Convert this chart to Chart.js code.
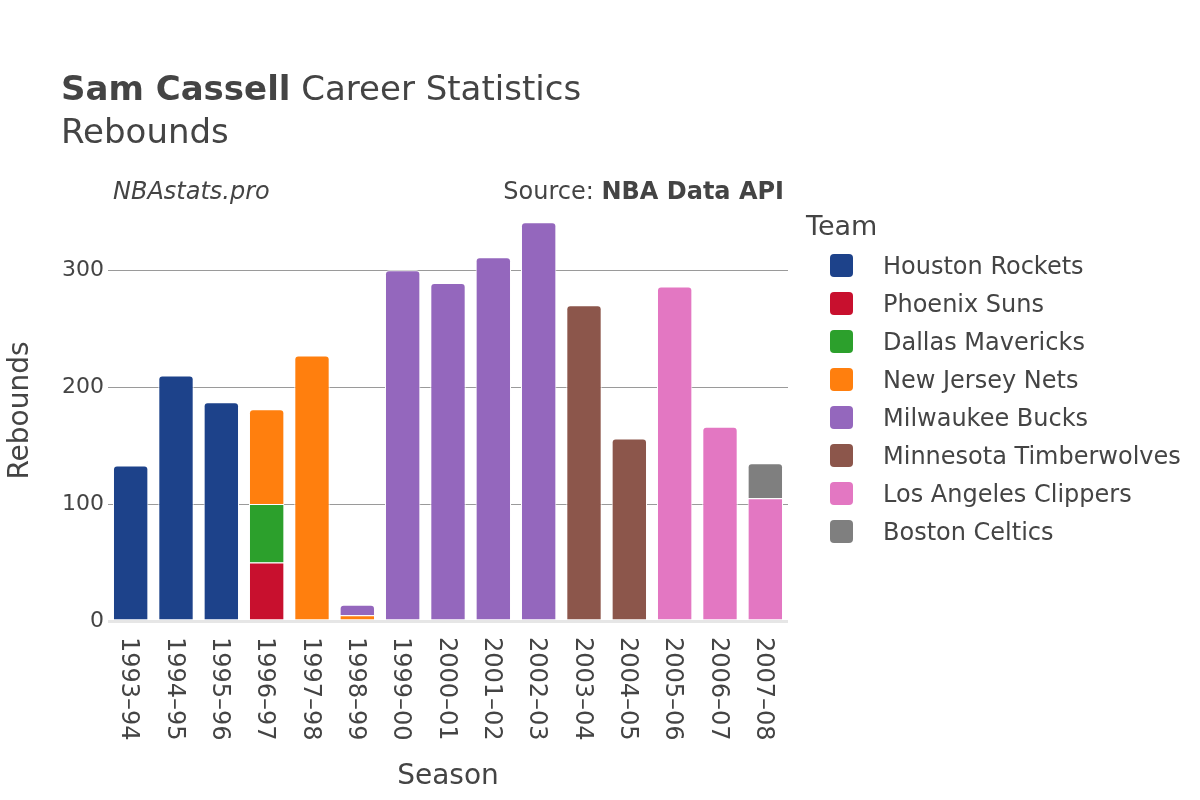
<!DOCTYPE html>
<html>
<head>
<meta charset="utf-8">
<script src="https://cdn.jsdelivr.net/npm/chart.js@4.4.1/dist/chart.umd.min.js"></script>
<style>
  body { margin: 0; background: #fff; font-family: "DejaVu Sans", sans-serif; color: #444; }
  #wrap { position: relative; width: 1200px; height: 800px; overflow: hidden; }
  #chart { position: absolute; left: 0; top: 0; }
  .txt { position: absolute; line-height: 1; white-space: nowrap; }
  .item { position: absolute; left: 830px; height: 23px; }
  .swatch { position: absolute; left: 0; top: 0; width: 23px; height: 23px; border-radius: 4px; }
  .label { position: absolute; left: 53px; top: 0; font-size: 24px; line-height: 1; white-space: nowrap; }
</style>
</head>
<body>
<div id="wrap">
  <canvas id="chart" width="1200" height="800"></canvas>
  <div class="txt" style="left:61px; top:71px; font-size:34px;"><b>Sam Cassell</b> Career Statistics</div>
  <div class="txt" style="left:61px; top:114px; font-size:34px;">Rebounds</div>
  <div class="txt" style="left:113px; top:179px; font-size:24px; font-style:italic;">NBAstats.pro</div>
  <div class="txt" style="right:416px; top:179px; font-size:24px;">Source: <b>NBA Data API</b></div>
  <div class="txt" style="left:806px; top:212px; font-size:27px;">Team</div>
  <div id="legend"></div>
</div>
<script>
const seasons = ["1993–94", "1994–95", "1995–96", "1996–97", "1997–98", "1998–99", "1999–00",
  "2000–01", "2001–02", "2002–03", "2003–04", "2004–05", "2005–06", "2006–07", "2007–08"];

const teams = ["Houston Rockets", "Phoenix Suns", "Dallas Mavericks", "New Jersey Nets",
  "Milwaukee Bucks", "Minnesota Timberwolves", "Los Angeles Clippers", "Boston Celtics"];

const teamColors = ["#1d428a", "#c8102e", "#2ca02c", "#ff7f0e", "#9467bd", "#8c564b", "#e377c2", "#7f7f7f"];

// rebounds per season, null where he did not play for that team
const houston   = [133, 210, 187, null, null, null, null, null, null, null, null, null, null, null, null];
const phoenix   = [null, null, null, 50, null, null, null, null, null, null, null, null, null, null, null];
const dallas    = [null, null, null, 50, null, null, null, null, null, null, null, null, null, null, null];
const newJersey = [null, null, null, 81, 227, 5, null, null, null, null, null, null, null, null, null];
const milwaukee = [null, null, null, null, null, 9, 300, 289, 311, 341, null, null, null, null, null];
const minnesota = [null, null, null, null, null, null, null, null, null, null, 270, 156, null, null, null];
const clippers  = [null, null, null, null, null, null, null, null, null, null, null, null, 286, 166, 105];
const boston    = [null, null, null, null, null, null, null, null, null, null, null, null, null, null, 30];

const yTicks = [0, 100, 200, 300];

const teamData = [houston, phoenix, dallas, newJersey, milwaukee, minnesota, clippers, boston];

// only the topmost segment of each stack gets rounded corners
function isTopSegment(dsIndex, i) {
  for (let k = dsIndex + 1; k < teamData.length; k++) {
    if (teamData[k][i] != null) return false;
  }
  return true;
}

const datasets = teams.map((name, d) => ({
  label: name,
  data: teamData[d],
  backgroundColor: teamColors[d],
  borderColor: "#ffffff",
  borderWidth: 1,
  borderRadius: (ctx) => isTopSegment(ctx.datasetIndex, ctx.dataIndex)
    ? { topLeft: 4, topRight: 4, bottomLeft: 0, bottomRight: 0 } : 0,
  categoryPercentage: 1,
  barPercentage: 0.78,
}));

// html legend
const legendEl = document.getElementById("legend");
teams.forEach((name, d) => {
  const item = document.createElement("div");
  item.className = "item";
  item.style.top = (254 + d * 38) + "px";
  item.innerHTML = `<div class="swatch" style="background:${teamColors[d]}"></div><div class="label">${name}</div>`;
  legendEl.appendChild(item);
});

// x tick labels read top to bottom, which Chart.js rotation can't do
const seasonLabels = {
  id: "seasonLabels",
  afterDraw(chart) {
    const xs = chart.scales.x;
    const c = chart.ctx;
    c.save();
    c.font = '24px "DejaVu Sans"';
    c.fillStyle = "#444";
    c.textAlign = "left";
    c.textBaseline = "middle";
    seasons.forEach((s, i) => {
      c.save();
      c.translate(xs.getPixelForTick(i) - 2, xs.top + 16);
      c.rotate(Math.PI / 2);
      c.fillText(s, 0, 0);
      c.restore();
    });
    c.restore();
  },
};

const ctx = document.getElementById("chart").getContext("2d");
new Chart(ctx, {
  type: "bar",
  data: { labels: seasons, datasets },
  plugins: [seasonLabels],
  options: {
    responsive: false,
    animation: false,
    layout: { padding: { top: 200, right: 412, left: 0, bottom: 0 } },
    scales: {
      x: {
        stacked: true,
        grid: { display: false },
        border: { display: false },
        ticks: { display: false },
        title: {
          display: true,
          text: "Season",
          color: "#444",
          font: { family: "DejaVu Sans", size: 28 },
          padding: { top: 0, bottom: 6 },
        },
        afterFit: (s) => { s.height = 179; },
      },
      y: {
        stacked: true,
        min: 0,
        max: 360,
        afterBuildTicks: (s) => { s.ticks = yTicks.map((v) => ({ value: v })); },
        ticks: {
          color: "#444",
          font: { family: "DejaVu Sans", size: 22 },
          padding: 4,
        },
        grid: {
          drawTicks: false,
          color: (c) => (c.tick && c.tick.value === 0 ? "#e6e6e6" : "#9a9a9a"),
          lineWidth: (c) => (c.tick && c.tick.value === 0 ? 3 : 1),
        },
        border: { display: false },
        title: {
          display: true,
          text: "Rebounds",
          color: "#444",
          font: { family: "DejaVu Sans", size: 28 },
          padding: { top: 4, bottom: 0 },
        },
        afterFit: (s) => { s.width = 108; },
      },
    },
    plugins: {
      legend: { display: false },
      tooltip: { enabled: false },
    },
  },
});
</script>
</body>
</html>
